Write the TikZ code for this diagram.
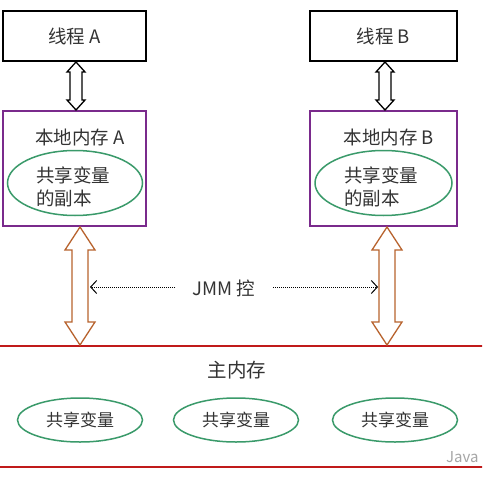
\documentclass[tikz,border=0pt]{standalone}
\usepackage{fontspec}
\setmainfont{Noto Sans CJK SC}
\usetikzlibrary{arrows.meta,shapes.geometric}
\definecolor{txt}{HTML}{333333}
\definecolor{lmpurple}{HTML}{7A2A8C}
\definecolor{ellgreen}{HTML}{3A9A6A}
\definecolor{memred}{HTML}{C01A1A}
\definecolor{arrorange}{HTML}{B8632E}
\newcommand\hollowarr[7]{% color, cx, y1, y2, s, h, L
  \draw[#1, line width=1.3pt, fill=white]
    (#2,#3) -- ({#2+#6},{#3+#7}) -- ({#2+#5},{#3+#7}) -- ({#2+#5},{#4-#7})
    -- ({#2+#6},{#4-#7}) -- (#2,#4) -- ({#2-#6},{#4-#7}) -- ({#2-#5},{#4-#7})
    -- ({#2-#5},{#3+#7}) -- ({#2-#6},{#3+#7}) -- cycle;}
\begin{document}
\begin{tikzpicture}[x=1pt,y=-1pt,
  every node/.style={text=txt, font=\fontsize{18.5}{23}\selectfont, inner sep=0pt},
  threadbox/.style={draw=black, line width=1.5pt, minimum height=50pt},
  localbox/.style={draw=lmpurple, line width=1.5pt, minimum height=115pt},
  varell/.style={ellipse, draw=ellgreen, line width=1.5pt},
  dotarr/.style={line width=1pt, dash pattern=on 1pt off 1pt, -{Straight Barb[length=6pt,width=13pt]}}]
\useasboundingbox (0,0) rectangle (482,484);
\clip (0,0) rectangle (482,484);
\fill[white] (0,0) rectangle (482,484);

% threads
\node[threadbox, minimum width=143pt] (ta) at (74.5,36) {线程 A};
\node[threadbox, minimum width=147pt] (tb) at (383.5,36) {线程 B};

% local memories
\node[localbox, minimum width=143pt] (la) at (74.5,168.5) {};
\node[localbox, minimum width=147pt] (lb) at (383.5,168.5) {};
\node (lat) at (80,137) {本地内存 A};
\node (lbt) at (389,137) {本地内存 B};
\node[varell, minimum width=135pt, minimum height=65pt] (ea) at (75,183) {};
\node[varell, minimum width=137pt, minimum height=65pt] (eb) at (383.5,183) {};
\node[align=left] (eat) at (73,187) {共享变量\\的副本};
\node[align=left] (ebt) at (381,187) {共享变量\\的副本};

% thread <-> local arrows
\hollowarr{black}{76}{62}{110}{6}{9}{10}
\hollowarr{black}{385}{62}{110}{6}{9}{10}

% main memory
\draw[memred, line width=1.6pt] (-10,346) rectangle (492,467);
\node[font=\fontsize{19.5}{23}\selectfont] (mm) at (237,370) {主内存};
\node[varell, minimum width=125pt, minimum height=44pt, font=\fontsize{17}{20}\selectfont] (v1) at (80,420) {共享变量};
\node[varell, minimum width=125pt, minimum height=44pt, font=\fontsize{17}{20}\selectfont] (v2) at (236,420) {共享变量};
\node[varell, minimum width=125pt, minimum height=44pt, font=\fontsize{17}{20}\selectfont] (v3) at (395,420) {共享变量};

% local <-> main arrows
\hollowarr{arrorange}{80}{227}{345}{8}{15}{23}
\hollowarr{arrorange}{387}{227}{345}{8}{15}{23}

% JMM control
\node (jmm) at (224,288) {JMM 控};
\coordinate (jl1) at (175,287);
\coordinate (jl2) at (90,287);
\coordinate (jr1) at (273,287);
\coordinate (jr2) at (378,287);
\draw[dotarr] (jl1) -- (jl2);
\draw[dotarr] (jr1) -- (jr2);

% watermark
\node[text=black!35, font=\fontsize{15}{18}\selectfont, anchor=west] (wm) at (446,457) {Java};
\end{tikzpicture}
\end{document}
